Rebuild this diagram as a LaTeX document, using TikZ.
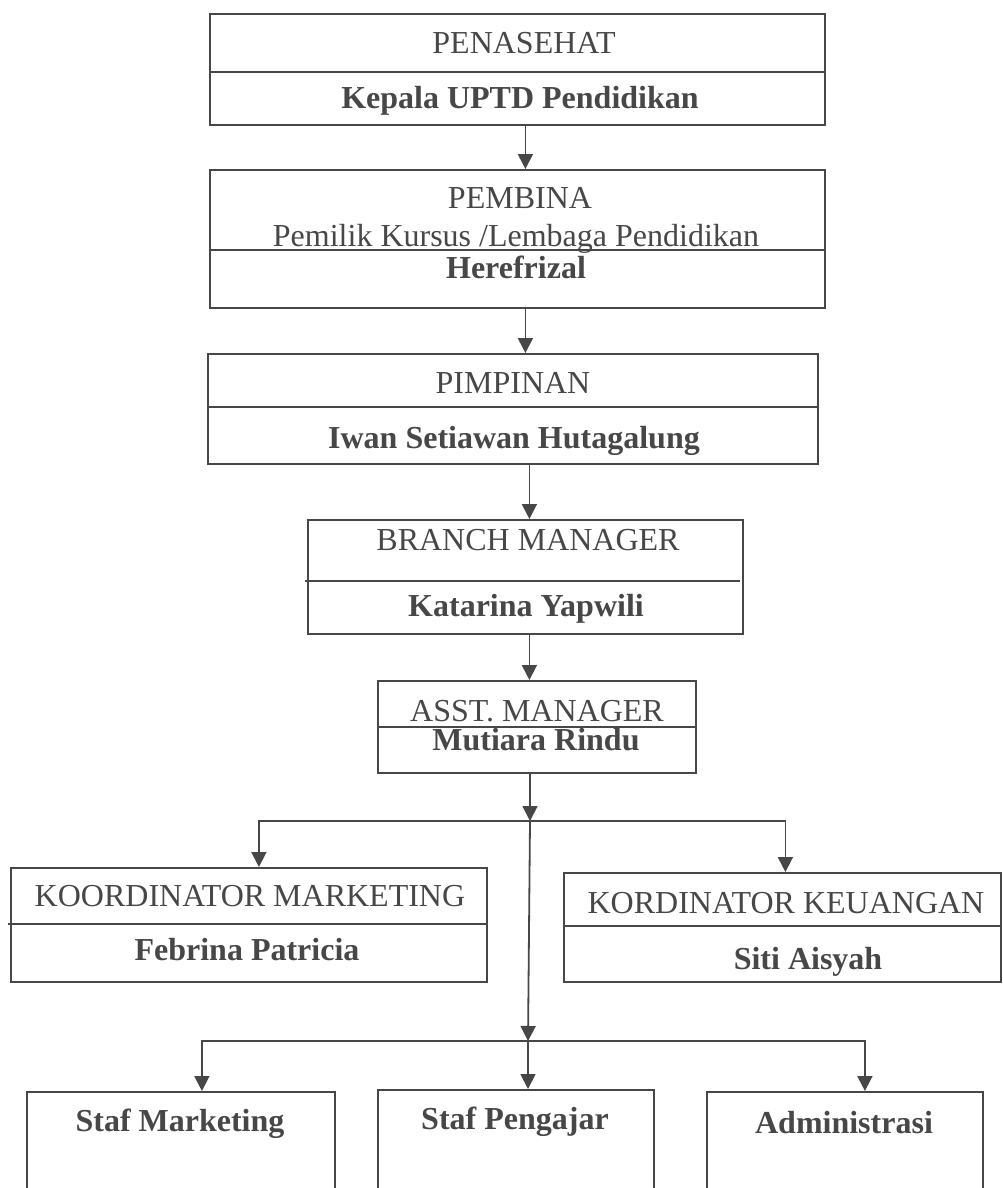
\documentclass[tikz,border=0pt]{standalone}
\usepackage{fontspec}
\setmainfont{Liberation Serif}
\usetikzlibrary{arrows.meta}
\definecolor{abu}{HTML}{474747}

\begin{document}
\begin{tikzpicture}[x=1pt,y=-1pt,
		box/.style={draw=abu, line width=1.8pt, anchor=north west, inner sep=0pt},
		sekat/.style={draw=abu, line width=1.8pt},
		panah/.style={draw=abu, line width=1.8pt, -{Triangle[length=15pt,width=15pt]}},
		lbl/.style={text=abu, inner sep=0pt, text height=21pt, text depth=0pt},
		nama/.style={lbl, font=\fontsize{32}{38}\selectfont\bfseries}]
		\tikzstyle{every node}=[font=\fontsize{32}{38}\selectfont]
		\clip (0,0) rectangle (1003,1188);
		\fill[white] (0,0) rectangle (1003,1188);
		% penasehat
		\node[box, minimum width=615pt, minimum height=111pt] (penasehat) at (209,13) {};
		\draw[sekat] (209,72) -- (824,72);
		\node[lbl] at (524,43) {PENASEHAT};
		\node[nama] at (520,98) {Kepala UPTD Pendidikan};
		% pembina
		\node[box, minimum width=615pt, minimum height=138pt] (pembina) at (209,169) {};
		\draw[sekat] (209,250) -- (824,250);
		\node[lbl] at (520,198) {PEMBINA};
		\node[lbl] at (516,236) {Pemilik Kursus /Lembaga Pendidikan};
		\node[nama] at (516,268) {Herefrizal};
		% pimpinan
		\node[box, minimum width=610pt, minimum height=110pt] (pimpinan) at (207,353) {};
		\draw[sekat] (207,407) -- (817,407);
		\node[lbl] at (513,383) {PIMPINAN};
		\node[nama] at (514,438) {Iwan Setiawan Hutagalung};
		% branch manager
		\node[box, minimum width=435pt, minimum height=114pt] (bm) at (307,519) {};
		\draw[sekat] (305,581) -- (740,581);
		\node[lbl] at (528,540) {BRANCH MANAGER};
		\node[nama] at (526,606) {Katarina Yapwili};
		% asst. manager
		\node[box, minimum width=318pt, minimum height=92pt] (asst) at (377,680) {};
		\draw[sekat] (377,727) -- (695,727);
		\node[lbl] at (537,711) {ASST. MANAGER};
		\node[nama] at (536,740) {Mutiara Rindu};
		% koordinator
		\node[box, minimum width=476pt, minimum height=114pt] (km) at (10,867) {};
		\draw[sekat] (8,924) -- (486,924);
		\node[lbl] at (250,896) {KOORDINATOR MARKETING};
		\node[nama] at (247,950) {Febrina Patricia};
		\node[box, minimum width=437pt, minimum height=109pt] (kk) at (563,872) {};
		\draw[sekat] (563,926) -- (1000,926);
		\node[lbl] at (786,903) {KORDINATOR KEUANGAN};
		\node[nama] at (808,959) {Siti Aisyah};
		% staf
		\node[box, minimum width=308pt, minimum height=130pt] (sm) at (26,1091) {};
		\node[nama] at (180,1121) {Staf Marketing};
		\node[box, minimum width=276pt, minimum height=132pt] (sp) at (377,1089) {};
		\node[nama] at (515,1119) {Staf Pengajar};
		\node[box, minimum width=276pt, minimum height=130pt] (adm) at (706,1091) {};
		\node[nama] at (844,1123) {Administrasi};
		% garis
		\coordinate (j1) at (530,821);
		\coordinate (j2) at (528,1041);
		\draw[panah] ([xshift=8pt]penasehat.south) -- ([xshift=8pt]penasehat.south |- pembina.north);
		\draw[panah] ([xshift=8pt]pembina.south) -- ([xshift=8pt]pembina.south |- pimpinan.north);
		\draw[panah] ([xshift=4pt]bm.north |- pimpinan.south) -- ([xshift=4pt]bm.north);
		\draw[panah] ([xshift=4pt]bm.south) -- ([xshift=4pt]bm.south |- asst.north);
		\draw[panah] (asst.south -| j1) -- (j1);
		\draw[panah] (j1) -| ([xshift=10pt]km.north);
		\draw[panah] (j1) -| ([xshift=3pt]kk.north);
		\draw[panah] (j1) -- (j2);
		\draw[panah] (j2) -| ([xshift=21pt]sm.north);
		\draw[panah] (j2) -- (j2 |- sp.north);
		\draw[panah] (j2) -| ([xshift=20pt]adm.north);
\end{tikzpicture}
\end{document}
